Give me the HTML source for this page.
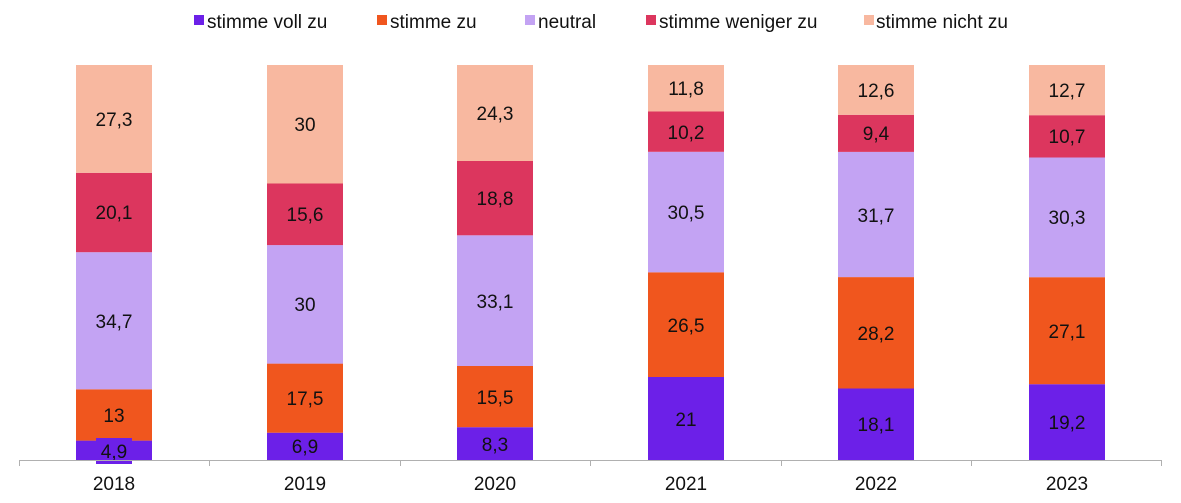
<!DOCTYPE html>
<html><head><meta charset="utf-8"><style>
html,body{margin:0;padding:0;background:#fff;}
svg text{font-family:"Liberation Sans",Arial,sans-serif;font-size:19px;fill:#111;}
</style></head><body>
<svg width="1181" height="498" xmlns="http://www.w3.org/2000/svg">
<!-- legend -->
<rect x="194" y="15" width="10" height="10" fill="#6c20e8"/><text x="207" y="28">stimme voll zu</text>
<rect x="377" y="15" width="10" height="10" fill="#f0561e"/><text x="390" y="28">stimme zu</text>
<rect x="525" y="15" width="10" height="10" fill="#c3a3f3"/><text x="538" y="28">neutral</text>
<rect x="646" y="15" width="10" height="10" fill="#dc365e"/><text x="659" y="28">stimme weniger zu</text>
<rect x="864" y="15" width="10" height="10" fill="#f8b8a0"/><text x="876" y="28">stimme nicht zu</text>

<g text-anchor="middle">
<!-- 2018 -->
<rect x="76" y="440.6" width="76" height="19.4" fill="#6c20e8"/>
<rect x="76" y="389.3" width="76" height="51.3" fill="#f0561e"/>
<rect x="76" y="252.2" width="76" height="137.1" fill="#c3a3f3"/>
<rect x="76" y="172.8" width="76" height="79.4" fill="#dc365e"/>
<rect x="76" y="65" width="76" height="107.8" fill="#f8b8a0"/>
<rect x="96" y="438" width="36" height="26" fill="#6c20e8"/>
<text x="114" y="458">4,9</text><text x="114" y="422">13</text><text x="114" y="328">34,7</text><text x="114" y="219">20,1</text><text x="114" y="126">27,3</text>
<!-- 2019 -->
<rect x="267" y="432.7" width="76" height="27.3" fill="#6c20e8"/>
<rect x="267" y="363.6" width="76" height="69.1" fill="#f0561e"/>
<rect x="267" y="245.1" width="76" height="118.5" fill="#c3a3f3"/>
<rect x="267" y="183.5" width="76" height="61.6" fill="#dc365e"/>
<rect x="267" y="65" width="76" height="118.5" fill="#f8b8a0"/>
<text x="305" y="453">6,9</text><text x="305" y="405">17,5</text><text x="305" y="311">30</text><text x="305" y="221">15,6</text><text x="305" y="131">30</text>
<!-- 2020 -->
<rect x="457" y="427.2" width="76" height="32.8" fill="#6c20e8"/>
<rect x="457" y="366" width="76" height="61.2" fill="#f0561e"/>
<rect x="457" y="235.3" width="76" height="130.7" fill="#c3a3f3"/>
<rect x="457" y="161" width="76" height="74.3" fill="#dc365e"/>
<rect x="457" y="65" width="76" height="96" fill="#f8b8a0"/>
<text x="495" y="451">8,3</text><text x="495" y="404">15,5</text><text x="495" y="308">33,1</text><text x="495" y="205">18,8</text><text x="495" y="120">24,3</text>
<!-- 2021 -->
<rect x="648" y="377" width="76" height="83" fill="#6c20e8"/>
<rect x="648" y="272.3" width="76" height="104.7" fill="#f0561e"/>
<rect x="648" y="151.8" width="76" height="120.5" fill="#c3a3f3"/>
<rect x="648" y="111.5" width="76" height="40.3" fill="#dc365e"/>
<rect x="648" y="65" width="76" height="46.5" fill="#f8b8a0"/>
<text x="686" y="426">21</text><text x="686" y="332">26,5</text><text x="686" y="219">30,5</text><text x="686" y="139">10,2</text><text x="686" y="95">11,8</text>
<!-- 2022 -->
<rect x="838" y="388.5" width="76" height="71.5" fill="#6c20e8"/>
<rect x="838" y="277.1" width="76" height="111.4" fill="#f0561e"/>
<rect x="838" y="151.9" width="76" height="125.2" fill="#c3a3f3"/>
<rect x="838" y="114.8" width="76" height="37.1" fill="#dc365e"/>
<rect x="838" y="65" width="76" height="49.8" fill="#f8b8a0"/>
<text x="876" y="431">18,1</text><text x="876" y="340">28,2</text><text x="876" y="222">31,7</text><text x="876" y="140">9,4</text><text x="876" y="97">12,6</text>
<!-- 2023 -->
<rect x="1029" y="384.2" width="76" height="75.8" fill="#6c20e8"/>
<rect x="1029" y="277.2" width="76" height="107" fill="#f0561e"/>
<rect x="1029" y="157.5" width="76" height="119.7" fill="#c3a3f3"/>
<rect x="1029" y="115.2" width="76" height="42.3" fill="#dc365e"/>
<rect x="1029" y="65" width="76" height="50.2" fill="#f8b8a0"/>
<text x="1067" y="429">19,2</text><text x="1067" y="338">27,1</text><text x="1067" y="224">30,3</text><text x="1067" y="143">10,7</text><text x="1067" y="97">12,7</text>

<!-- axis -->
<line x1="19" y1="460.5" x2="1162" y2="460.5" stroke="#b0b0b0" stroke-width="1"/>
<g stroke="#b0b0b0" stroke-width="1">
<line x1="19.5" y1="460" x2="19.5" y2="466"/><line x1="209.5" y1="460" x2="209.5" y2="466"/>
<line x1="400.5" y1="460" x2="400.5" y2="466"/><line x1="590.5" y1="460" x2="590.5" y2="466"/>
<line x1="781.5" y1="460" x2="781.5" y2="466"/><line x1="971.5" y1="460" x2="971.5" y2="466"/>
<line x1="1161.5" y1="460" x2="1161.5" y2="466"/>
</g>
<text x="114" y="490">2018</text><text x="305" y="490">2019</text><text x="495" y="490">2020</text>
<text x="686" y="490">2021</text><text x="876" y="490">2022</text><text x="1067" y="490">2023</text>
</g>
</svg>
</body></html>
